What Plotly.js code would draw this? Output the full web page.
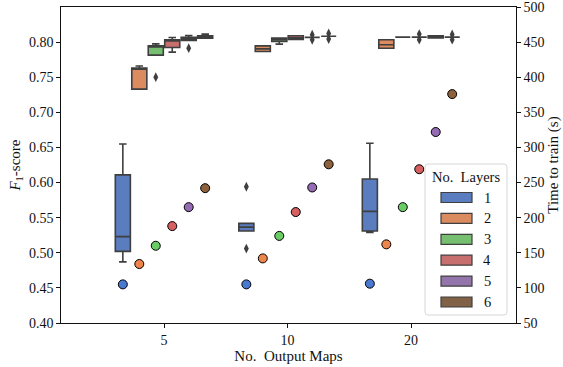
<!DOCTYPE html>
<html>
<head>
<meta charset="utf-8">
<script src="https://cdn.plot.ly/plotly-3.0.1.min.js"></script>
<style>html,body{margin:0;padding:0;background:#fff;}#chart{width:563px;height:367px;}</style>
</head>
<body>
<div id="chart"></div>
<script>
// ---- data ----
const categories = ['5', '10', '20'];
const layers = ['1', '2', '3', '4', '5', '6'];

// F1-score box statistics: rows = layers 1..6, columns = output maps 5, 10, 20
const lowerFence = [
  [0.487, 0.531, 0.529],
  [0.733, 0.7866, 0.7913],
  [0.7814, 0.7972, 0.8071],
  [0.7857, 0.8037, 0.8071],
  [0.8025, 0.8068, 0.806],
  [0.8057, 0.8083, 0.8071]
];
const q1 = [
  [0.502, 0.531, 0.531],
  [0.733, 0.7866, 0.7913],
  [0.7814, 0.8009, 0.8071],
  [0.7923, 0.8037, 0.8071],
  [0.8025, 0.8068, 0.806],
  [0.8057, 0.8083, 0.8071]
];
const median = [
  [0.523, 0.5365, 0.559],
  [0.762, 0.7904, 0.7962],
  [0.793, 0.8035, 0.8071],
  [0.8015, 0.806, 0.8071],
  [0.805, 0.8068, 0.8075],
  [0.807, 0.8083, 0.8071]
];
const q3 = [
  [0.611, 0.5418, 0.605],
  [0.763, 0.7947, 0.8033],
  [0.7947, 0.8057, 0.8071],
  [0.8033, 0.809, 0.8071],
  [0.807, 0.8068, 0.809],
  [0.809, 0.8083, 0.8071]
];
const upperFence = [
  [0.655, 0.5418, 0.656],
  [0.766, 0.7947, 0.8033],
  [0.7975, 0.8057, 0.8071],
  [0.8066, 0.809, 0.8071],
  [0.8094, 0.8068, 0.809],
  [0.8114, 0.8083, 0.8071]
];

// outliers (fliers)
const outlierLayer = [1, 1, 3, 5, 5, 5, 6, 6, 4, 4, 6, 6];
const outlierCat   = ['10', '10', '5', '5', '10', '10', '10', '10', '20', '20', '20', '20'];
const outlierValue = [0.594, 0.506, 0.750, 0.7914, 0.8105, 0.8033, 0.8123, 0.8043, 0.8115, 0.8035, 0.811, 0.8035];

// time to train (s): rows = layers 1..6, columns = output maps 5, 10, 20
const trainTime = [
  [105, 105, 106],
  [134, 142, 162],
  [160, 174, 215],
  [188, 208, 269],
  [215, 243, 322],
  [242, 276, 376]
];

// ---- styles ----
const boxColors = ['#597dbf', '#da8b5f', '#76bf71', '#c76e6e', '#9475ab', '#826246'];
const dotColors = ['#4878d0', '#ee854a', '#6acc64', '#d65f5f', '#956cb4', '#8c613c'];
const gray = '#3f3f3f';
const FONT = 'Liberation Serif, Times New Roman, serif';

// dodge position of a hue level within a category (seaborn style)
const nH = layers.length;
const groupWidth = 0.8;
function pos(catIdx, hIdx) {
  return catIdx + (hIdx - (nH - 1) / 2) * groupWidth / nH;
}

const traces = [];
layers.forEach((L, h) => {
  traces.push({
    type: 'box',
    orientation: 'v',
    x: categories.map((c, i) => pos(i, h)),
    q1: q1[h], median: median[h], q3: q3[h],
    lowerfence: lowerFence[h], upperfence: upperFence[h],
    width: 0.122,
    whiskerwidth: 0.5,
    fillcolor: boxColors[h],
    line: {color: gray, width: 1.6},
    boxpoints: false,
    hoverinfo: 'skip',
    showlegend: false,
    yaxis: 'y'
  });
});

traces.push({
  type: 'scatter', mode: 'markers',
  x: outlierValue.map((v, k) => pos(categories.indexOf(outlierCat[k]), outlierLayer[k] - 1)),
  y: outlierValue,
  marker: {symbol: 'diamond-tall', size: 7, color: gray, line: {width: 0}},
  showlegend: false, hoverinfo: 'skip', yaxis: 'y'
});

layers.forEach((L, h) => {
  traces.push({
    type: 'scatter', mode: 'markers',
    x: categories.map((c, i) => pos(i, h)),
    y: trainTime[h],
    marker: {size: 9, color: dotColors[h], line: {color: '#000', width: 1}},
    showlegend: false, hoverinfo: 'skip',
    yaxis: 'y2'
  });
});

// ---- custom legend (seaborn patch style) ----
const W = 563, H = 367, ml = 61, mr = 47, mt = 7, mb = 44;
const pw = W - ml - mr, ph = H - mt - mb;
const fx = p => (p - ml) / pw;
const fy = p => (H - mb - p) / ph;

const shapes = [];
const annotations = [];
(function () {
  const x0 = 425, x1 = 507, y0 = 164, y1 = 315, r = 3;
  const P = (x, y) => fx(x) + ',' + fy(y);
  const d = 'M' + P(x0 + r, y0) + ' L' + P(x1 - r, y0) + ' Q' + P(x1, y0) + ' ' + P(x1, y0 + r) +
            ' L' + P(x1, y1 - r) + ' Q' + P(x1, y1) + ' ' + P(x1 - r, y1) +
            ' L' + P(x0 + r, y1) + ' Q' + P(x0, y1) + ' ' + P(x0, y1 - r) +
            ' L' + P(x0, y0 + r) + ' Q' + P(x0, y0) + ' ' + P(x0 + r, y0) + ' Z';
  shapes.push({type: 'path', xref: 'paper', yref: 'paper', path: d,
    fillcolor: 'rgba(255,255,255,0.85)', line: {color: '#d6d6d6', width: 1}, layer: 'above'});
})();
annotations.push({xref: 'paper', yref: 'paper', x: fx(466), y: fy(177), text: 'No.\u2002Layers',
  showarrow: false, xanchor: 'center', yanchor: 'middle', font: {family: FONT, size: 14.5, color: '#111'}});
layers.forEach((L, h) => {
  const cy = 197.5 + h * 20.9;
  shapes.push({type: 'rect', xref: 'paper', yref: 'paper', x0: fx(441), x1: fx(472),
    y0: fy(cy - 5), y1: fy(cy + 5), fillcolor: boxColors[h], line: {color: gray, width: 1.2}, layer: 'above'});
  annotations.push({xref: 'paper', yref: 'paper', x: fx(487), y: fy(cy), text: L, showarrow: false,
    xanchor: 'center', yanchor: 'middle', font: {family: FONT, size: 14.5, color: '#111'}});
});

const yTicks = [0.40, 0.45, 0.50, 0.55, 0.60, 0.65, 0.70, 0.75, 0.80];
const y2Ticks = [50, 100, 150, 200, 250, 300, 350, 400, 450, 500];

const layout = {
  width: W, height: H,
  margin: {l: ml, r: mr, t: mt, b: mb, pad: 0},
  paper_bgcolor: '#fff', plot_bgcolor: '#fff',
  font: {family: FONT, size: 14, color: '#111'},
  showlegend: false,
  xaxis: {
    range: [-0.834, 2.85], tickvals: [0, 1, 2], ticktext: categories,
    showgrid: false, zeroline: false, showline: true, mirror: true, linecolor: '#111', linewidth: 1.3,
    ticks: 'outside', ticklen: 3.5, tickwidth: 1, tickcolor: '#111',
    tickfont: {family: FONT, size: 14},
    title: {text: 'No.\u2002Output Maps', font: {family: FONT, size: 15}, standoff: 2}
  },
  yaxis: {
    range: [0.40, 0.85], tickvals: yTicks, ticktext: yTicks.map(v => v.toFixed(2)),
    showgrid: false, zeroline: false, showline: true, linecolor: '#111', linewidth: 1.3,
    ticks: 'outside', ticklen: 3.5, tickwidth: 1, tickcolor: '#111',
    tickfont: {family: FONT, size: 14},
    title: {text: '<i>F</i><sub>1</sub>-score', font: {family: FONT, size: 15}, standoff: 4}
  },
  yaxis2: {
    overlaying: 'y', side: 'right',
    range: [49.999, 500.001], tickvals: y2Ticks,
    ticklabeloverflow: 'allow',
    showgrid: false, zeroline: false, showline: true, linecolor: '#111', linewidth: 1.3,
    ticks: 'outside', ticklen: 3.5, tickwidth: 1, tickcolor: '#111',
    tickfont: {family: FONT, size: 14},
    title: {text: 'Time to train (s)', font: {family: FONT, size: 15}, standoff: 3}
  },
  shapes: shapes,
  annotations: annotations
};

Plotly.newPlot('chart', traces, layout, {staticPlot: true, displayModeBar: false});
</script>
</body>
</html>
